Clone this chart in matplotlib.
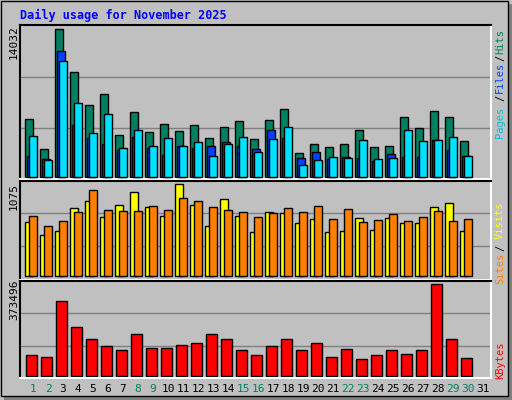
import matplotlib
matplotlib.use("Agg")
import matplotlib.pyplot as plt
from matplotlib.patches import Rectangle
import numpy as np

days = list(range(1, 32))
weekend = [1, 2, 8, 9, 15, 16, 22, 23, 29, 30]
# values (day 31 empty)
hits = [5460, 2600, 14032, 10020, 6790, 7840, 4020, 6120, 4220, 4980, 4320, 4890, 3650, 4700, 5270, 3560,
        5400, 6440, 2220, 3080, 2790, 3080, 4410, 2790, 2890, 5660, 4600, 6290, 5660, 3360, 0]
files = [1970, 1650, 11940, 4890, 3650, 3080, 2510, 3750, 2700, 2030, 2890, 2700, 2890, 3270, 2890, 2600,
         4410, 3650, 1750, 2320, 1650, 1870, 1750, 1490, 2160, 1870, 1870, 3490, 2540, 1970, 0]
pages = [3840, 1550, 10990, 6990, 4160, 5970, 2700, 4410, 2890, 3650, 2890, 3270, 1940, 3080, 3750, 2320,
         3560, 4700, 1080, 1550, 1840, 1750, 3460, 1650, 1750, 4410, 3360, 3490, 3750, 1940, 0]
visits = [632, 479, 526, 798, 880, 693, 833, 986, 810, 705, 1075, 833, 584, 900, 705, 514,
          748, 736, 619, 666, 514, 526, 682, 538, 682, 619, 619, 810, 857, 526, 0]
sites = [701, 584, 643, 748, 1005, 775, 763, 763, 822, 775, 911, 880, 810, 775, 748, 689,
         736, 794, 748, 822, 666, 786, 631, 655, 724, 643, 689, 763, 643, 666, 0]
kbytes = [83100, 75000, 307000, 197000, 148000, 123000, 107000, 169000, 112000, 112000, 124000, 132000,
          169000, 148000, 107000, 83100, 123000, 148000, 107000, 132000, 75000, 111000, 66800, 83100,
          103000, 90700, 103000, 373496, 148000, 71000, 0]

BG = "#c0c0c0"
W, H = 512, 400
fig = plt.figure(figsize=(5.12, 4.0), dpi=100, facecolor=BG)

def ax_at(x0, y0, x1, y1):
    ax = fig.add_axes([x0 / W, 1 - y1 / H, (x1 - x0) / W, (y1 - y0) / H])
    ax.set_facecolor(BG)
    for s in ax.spines.values():
        s.set_color("white"); s.set_linewidth(1.5)
    ax.spines["left"].set_color("black"); ax.spines["top"].set_color("black")
    ax.set_xticks([]); ax.set_yticks([])
    ax.set_xlim(1 + (20 - 31) / 15, 1 + (491 - 31) / 15)
    return ax

x = np.array(days, dtype=float)
px = 1 / 15.0
ek = dict(edgecolor="black", linewidth=1, align="edge")

def bars(ax, vals, off, w, color, z):
    v = np.array(vals, dtype=float)
    m = v > 0
    ax.bar(x[m] + off * px, v[m], width=w * px, color=color, zorder=z, **ek)

# top panel
a1 = ax_at(20, 25, 491, 179)
sc = 14032 / 147.3
a1.set_ylim(-2.3 * sc, 151.7 * sc)
for g in (100 * sc, 49 * sc):
    a1.axhline(g, color="#808080", lw=1, zorder=0)
bars(a1, hits, -5.7, 7.7, "#008060", 2)
bars(a1, files, -3.7, 7.7, "#0040ff", 3)
bars(a1, pages, -1.7, 7.4, "#00e0ff", 4)

# middle panel
a2 = ax_at(20, 181, 491, 280)
sc = 1075 / 92.0
a2.set_ylim(-3.7 * sc, 95.3 * sc)
for g in (63 * sc, 30 * sc):
    a2.axhline(g, color="#808080", lw=1, zorder=0)
bars(a2, visits, -5.7, 7.4, "#ffff00", 2)
bars(a2, sites, -1.7, 7.4, "#ff8000", 3)

# bottom panel
a3 = ax_at(20, 281, 491, 378)
sc = 373496 / 91.4
a3.set_ylim(-2.3 * sc, 94.7 * sc)
for g in (62.4 * sc, 29.4 * sc):
    a3.axhline(g, color="#808080", lw=1, zorder=0)
bars(a3, kbytes, -4.7, 10.4, "#ff0000", 2)

mono = "DejaVu Sans Mono"
def ft(xp, yp, s, **kw):
    fig.text(xp / W, 1 - yp / H, s, family=mono, **kw)

ft(20, 15, "Daily usage for November 2025", color="#0000ff", fontsize=8.5, weight="bold", va="center")
ft(14, 42, "14032", rotation=90, fontsize=8, ha="center", va="center")
ft(14, 196, "1075", rotation=90, fontsize=8, ha="center", va="center")
ft(14, 300, "373496", rotation=90, fontsize=8, ha="center", va="center")

rk = dict(rotation=90, fontsize=7.5, ha="center", va="center")
ft(500, 41, "Hits", color="#008060", **rk)
ft(500, 58, "/", color="black", **rk)
ft(500, 77, "Files", color="#0040ff", **rk)
ft(500, 98, "/", color="black", **rk)
ft(500, 122, "Pages", color="#00c0e0", **rk)
ft(500, 220, "Visits", color="#ffff00", **rk)
ft(500, 248, "/", color="black", **rk)
ft(500, 268, "Sites", color="#ff8000", **rk)
ft(500, 360, "KBytes", color="#ff0000", **rk)

for d in days:
    ft(31 + 15 * (d - 1) + 2, 389, str(d), color="#008060" if d in weekend else "black",
       fontsize=8, ha="center", va="center")

# outer frame with shadow
fig.patches.append(Rectangle((508 / W, 0), 4 / W, 396 / H, transform=fig.transFigure,
                             facecolor="#808080", edgecolor="none"))
fig.patches.append(Rectangle((4 / W, 0), 504 / W, 4 / H, transform=fig.transFigure,
                             facecolor="#808080", edgecolor="none"))
fig.patches.append(Rectangle((0.5 / W, 4.5 / H), 507 / W, 395 / H, transform=fig.transFigure,
                             facecolor="none", edgecolor="black", linewidth=1))

fig.savefig("out.png", dpi=100, facecolor=BG)
